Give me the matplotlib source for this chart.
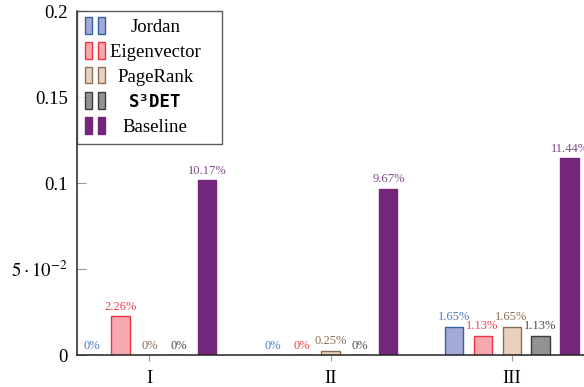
import numpy as np
import matplotlib
matplotlib.use('Agg')
import matplotlib.pyplot as plt
from matplotlib.patches import Rectangle
from matplotlib.legend_handler import HandlerBase
from matplotlib.ticker import FixedLocator, FixedFormatter

plt.rcParams['font.family'] = ['Liberation Serif', 'DejaVu Serif']
plt.rcParams['mathtext.fontset'] = 'stix'

# datos del gráfico
categorias = ['I', 'II', 'III']
series = ['Jordan', 'Eigenvector', 'PageRank', 'S³DET', 'Baseline']
jordan = [0.0, 0.0, 0.0165]
eigenvector = [0.0226, 0.0, 0.0113]
pagerank = [0.0, 0.0025, 0.0165]
s3det = [0.0, 0.0, 0.0113]
baseline = [0.1017, 0.0967, 0.1144]
valores = [jordan, eigenvector, pagerank, s3det, baseline]

y_ticks = [0, 0.05, 0.1, 0.15, 0.2]
y_etiquetas = ['0', r'$5\cdot10^{-2}$', '0.1', '0.15', '0.2']

rellenos = ['#a4a9d5', '#f5a8ad', '#e9d1be', '#939393', '#74277a']
bordes = ['#3560a8', '#ee3340', '#8c6f55', '#3c3c3c', '#74277a']
colores_texto = ['#4a7cc4', '#f0404a', '#8a6d55', '#4a4a4a', '#7e4a86']


# manejador de leyenda: dos barritas por entrada, como en pgfplots
class DosBarras(HandlerBase):
    def create_artists(self, legend, orig_handle, xdescent, ydescent,
                       width, height, fontsize, trans):
        fc = orig_handle.get_facecolor()
        ec = orig_handle.get_edgecolor()
        ancho = width * 0.36
        barras = []
        for x0 in (0.0, width - ancho):
            r = Rectangle((x0 - xdescent, -ydescent - 1), ancho, height + 2,
                          facecolor=fc, edgecolor=ec, linewidth=1.0,
                          transform=trans)
            barras.append(r)
        return barras


fig = plt.figure(figsize=(5.84, 3.87), dpi=100)
ax = fig.add_axes([77 / 584, 32 / 387, 507 / 584, 344 / 387])

x = np.arange(len(categorias))
ancho_barra = 0.1
paso = 0.16

handles = []
for i, (nombre, vals) in enumerate(zip(series, valores)):
    pos = x + (i - 2) * paso
    barras = ax.bar(pos, vals, ancho_barra, color=rellenos[i],
                    edgecolor=bordes[i], linewidth=1.0, label=nombre, zorder=2)
    handles.append(barras[0])
    for xi, v in zip(pos, vals):
        texto = '0%' if v == 0 else f'{v * 100:.2f}%'
        ax.annotate(texto, (xi, v), xytext=(0, 2.5), textcoords='offset points',
                    ha='center', va='bottom', fontsize=9,
                    color=colores_texto[i], clip_on=False)

ax.set_xlim(-0.4, 2.4)
ax.set_ylim(0, 0.2)
ax.set_xticks(x)
ax.set_xticklabels(categorias, fontsize=13.5)
ax.yaxis.set_major_locator(FixedLocator(y_ticks))
ax.yaxis.set_major_formatter(FixedFormatter(y_etiquetas))

ax.spines['top'].set_visible(False)
ax.spines['right'].set_visible(False)
for lado in ('left', 'bottom'):
    ax.spines[lado].set_linewidth(1.1)
    ax.spines[lado].set_color('#222222')

ax.tick_params(axis='y', direction='in', length=6.5, width=0.8,
               color='#999999', labelsize=13.5, pad=6.5)
ax.tick_params(axis='x', direction='out', length=4.5, width=0.8,
               color='#999999', labelsize=13.5, pad=6)

leg = ax.legend(handles, series, loc='upper left', bbox_to_anchor=(0, 1),
                fontsize=13.5, frameon=True, fancybox=False,
                handler_map={h: DosBarras() for h in handles},
                handlelength=1.1, handleheight=0.75, handletextpad=0.25,
                labelspacing=0.4, borderpad=0.4, borderaxespad=0)
leg.get_frame().set_edgecolor('#333333')
leg.get_frame().set_linewidth(1.0)
t = leg.get_texts()[3]
t.set_fontfamily('DejaVu Sans Mono')
t.set_fontweight('bold')
t.set_fontsize(12.5)

# centrar los textos de la leyenda y dejar margen a la derecha
fig.canvas.draw()
r = fig.canvas.get_renderer()
textos = leg.get_texts()
anchos = [tx.get_window_extent(r).width for tx in textos]
maximo = max(anchos)
for tx, w in zip(textos, anchos):
    tx.set_x((maximo - w) / 2)
ancho_max = textos[int(np.argmax(anchos))]
ancho_max.set_text(ancho_max.get_text() + '   ')

fig.savefig('out.png', dpi=100)
